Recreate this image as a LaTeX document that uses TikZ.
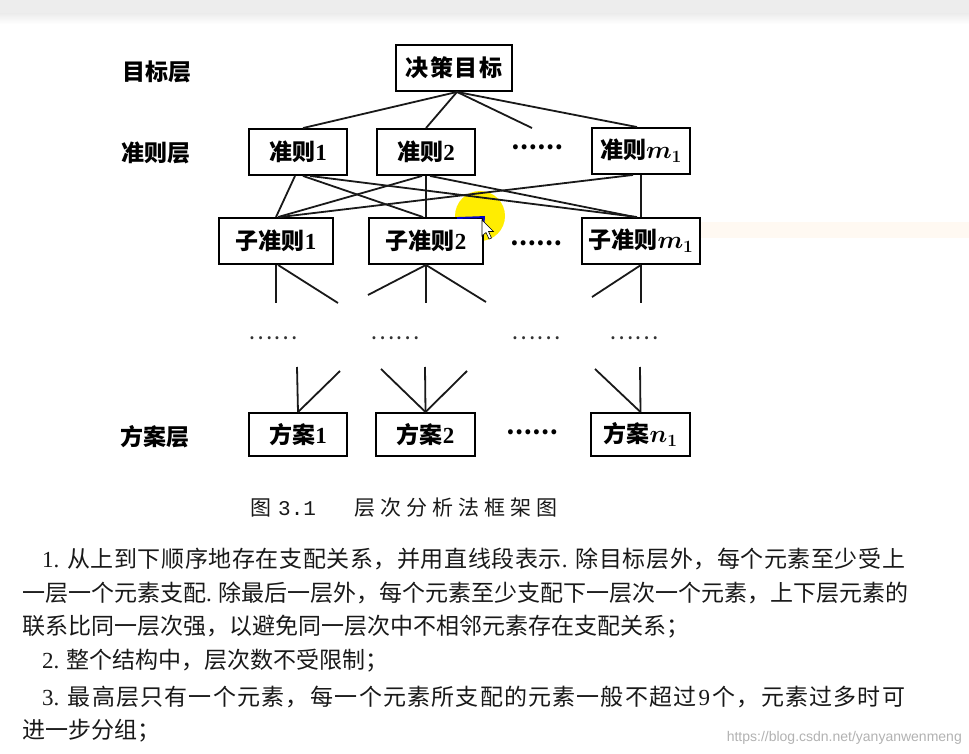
\documentclass[tikz,border=0pt]{standalone}
\usepackage{fontspec}
\setmainfont{Liberation Serif}
\newfontfamily\cjk{Noto Sans CJK SC}
\newfontfamily\cjkls[LetterSpace=2.6]{Noto Sans CJK SC}
\newfontfamily\cjklsb[LetterSpace=5.2]{Noto Sans CJK SC}
\newfontfamily\cjkwide[LetterSpace=8]{Noto Sans CJK SC}
\newfontfamily\cjkcap[LetterSpace=24]{Noto Sans CJK SC}
\newfontfamily\capmono{Liberation Mono}
\newfontfamily\wmfont{Liberation Sans}
\begin{document}
\begin{tikzpicture}[x=1pt,y=-1pt,
  box/.style={draw=black, line width=1.9pt, fill=white, inner sep=0pt, minimum height=46pt,
    font=\cjk\bfseries\fontsize{23}{23}\selectfont},
  lyr/.style={font=\cjk\bfseries\fontsize{23}{23}\selectfont},
  conn/.style={line width=1.8pt, black!90},
  dotsbig/.style={inner sep=0pt, font=\cjk\bfseries\fontsize{23}{23}\selectfont},
  dotssmall/.style={inner sep=0pt, font=\cjk\fontsize{23}{23}\selectfont, text=black!80},
  body/.style={anchor=west, inner sep=0pt, font=\cjk\fontsize{23}{23}\selectfont, text=black!90}]
\useasboundingbox (0,0) rectangle (969,754);
\fill[white] (0,0) rectangle (969,754);
\fill[black!7] (0,0) rectangle (969,14);
\shade[top color=black!7, bottom color=white] (0,14) rectangle (969,24);
\fill[orange!5] (700,222) rectangle (969,238);
% cursor highlight
\fill[yellow!95!orange] (480,216) circle (25pt);

% layer labels
\node[lyr] (l1) at (157,72) {目标层};
\node[lyr] (l2) at (156,153) {准则层};
\node[lyr] (l3) at (155,437) {方案层};

% boxes
\node[box, minimum width=116pt] (g) at (454,68) {\cjkwide\bfseries 决策目标};
\node[box, minimum width=98pt] (c1) at (298,152) {准则\textrm{1}};
\node[box, minimum width=98pt] (c2) at (426,152) {准则\textrm{2}};
\node[box, minimum width=98pt] (cm) at (641,151) {准则{\boldmath$m_{1}$}};
\node[box, minimum width=114pt] (s1) at (276,241) {子准则\textrm{1}};
\node[box, minimum width=114pt] (s2) at (426,241) {子准则\textrm{2}};
\node[box, minimum width=118pt] (sm) at (641,241) {子准则{\boldmath$m_{1}$}};
\node[box, minimum width=98pt, minimum height=43pt] (p1) at (298,434.5) {方案\textrm{1}};
\node[box, minimum width=99pt, minimum height=43pt] (p2) at (425.5,434.5) {方案\textrm{2}};
\node[box, minimum width=99pt, minimum height=43pt] (pn) at (640.5,434.5) {方案{\boldmath$n_{1}$}};

% dots
\node[dotsbig] (dt1) at (537,147) {……};
\node[dotsbig] (dt2) at (536,243) {……};
\node[dotsbig] (dt3) at (532,432) {……};
\node[dotssmall] (dm1) at (273,338) {……};
\node[dotssmall] (dm2) at (395,338) {……};
\node[dotssmall] (dm3) at (536,338) {……};
\node[dotssmall] (dm4) at (634,338) {……};

% free ends
\coordinate (stub) at (532,128);
\coordinate (a1) at (276,303);
\coordinate (a2) at (338,303);
\coordinate (b1) at (368,295);
\coordinate (b2) at (426,303);
\coordinate (b3) at (486,302);
\coordinate (d1) at (641,303);
\coordinate (d2) at (592,297);
\coordinate (e1) at (297,367);
\coordinate (e2) at (340,371);
\coordinate (f1) at (381,369);
\coordinate (f2) at (425,367);
\coordinate (f3) at (467,371);
\coordinate (h1) at (595,369);
\coordinate (h2) at (640,367);

% top connectors
\draw[conn] ([xshift=3pt]g.south) -- ([xshift=5pt]c1.north);
\draw[conn] ([xshift=3pt]g.south) -- (c2.north);
\draw[conn] ([xshift=3pt]g.south) -- (stub);
\draw[conn] ([xshift=3pt]g.south) -- ([xshift=-4pt]cm.north);

% criteria to sub-criteria
\draw[conn] ([xshift=-3pt]c1.south) -- (s1.north);
\draw[conn] ([xshift=5pt]c1.south) -- ([xshift=-3pt]s2.north);
\draw[conn] ([xshift=12pt]c1.south) -- ([xshift=-4pt]sm.north);
\draw[conn] ([xshift=-4pt]c2.south) -- ([xshift=2pt]s1.north);
\draw[conn] (c2.south) -- (s2.north);
\draw[conn] ([xshift=4pt]c2.south) -- ([xshift=-6pt]sm.north);
\draw[conn] ([xshift=-8pt]cm.south) -- ([xshift=4pt]s1.north);
\draw[conn] (cm.south) -- (sm.north);

% below sub-criteria
\draw[conn] (s1.south) -- (a1);
\draw[conn] ([xshift=2pt]s1.south) -- (a2);
\draw[conn] (s2.south) -- (b1);
\draw[conn] (s2.south) -- (b2);
\draw[conn] (s2.south) -- (b3);
\draw[conn] (sm.south) -- (d1);
\draw[conn] (sm.south) -- (d2);

% above alternatives
\draw[conn] (e1) -- (p1.north);
\draw[conn] (e2) -- (p1.north);
\draw[conn] (f1) -- (p2.north);
\draw[conn] (f2) -- (p2.north);
\draw[conn] (f3) -- (p2.north);
\draw[conn] (h1) -- (pn.north);
\draw[conn] (h2) -- (pn.north);

% highlighted box edge and cursor
\draw[blue!80!black, line width=1.9pt] (457,218) -- (s2.north east) -- (483,232);
\filldraw[fill=white, draw=black, line width=0.6pt] (482,220) -- (482,236) -- (486,232.5) -- (489,239) -- (491.5,238) -- (488.5,231.5) -- (493.5,231.5) -- cycle;

% caption
\node[anchor=west, inner sep=0pt, font=\cjk\fontsize{21}{21}\selectfont, text=black!90] (cap1) at (250,508) {图\hspace{7pt}{\capmono 3.1}};
\node[anchor=west, inner sep=0pt, font=\cjkcap\fontsize{21}{21}\selectfont, text=black!90] (cap2) at (354,508) {层次分析法框架图};

% body text
\node[body] (t1) at (42,559) {\hbox to 863pt{\cjkls{\rmfamily 1.} 从上到下顺序地存在支配关系，\hfil 并用直线段表示{\rmfamily .} \hfil 除目标层外，\hfil 每个元素至少受上}};
\node[body] (t2) at (22,593) {\hbox to 883pt{一层一个元素支配{\rmfamily .} \hfil 除最后一层外，\hfil 每个元素至少支配下一层次一个元素，\hfil 上下层元素的}};
\node[body] (t3) at (22,627) {联系比同一层次强，以避免同一层次中不相邻元素存在支配关系；};
\node[body] (t4) at (42,661) {{\rmfamily 2.} 整个结构中，层次数不受限制；};
\node[body] (t5) at (42,697) {\hbox to 863pt{\cjklsb{\rmfamily 3.} 最高层只有一个元素，\hfil 每一个元素所支配的元素一般不超过\hfil{\rmfamily 9}\hfil 个，\hfil 元素过多时可}};
\node[body] (t6) at (22,731) {进一步分组；};

% watermark
\node[anchor=east, inner sep=0pt, font=\wmfont\fontsize{14}{14}\selectfont, text=black!30] (wm) at (962,738) {https://blog.csdn.net/yanyanwenmeng};
\end{tikzpicture}
\end{document}
